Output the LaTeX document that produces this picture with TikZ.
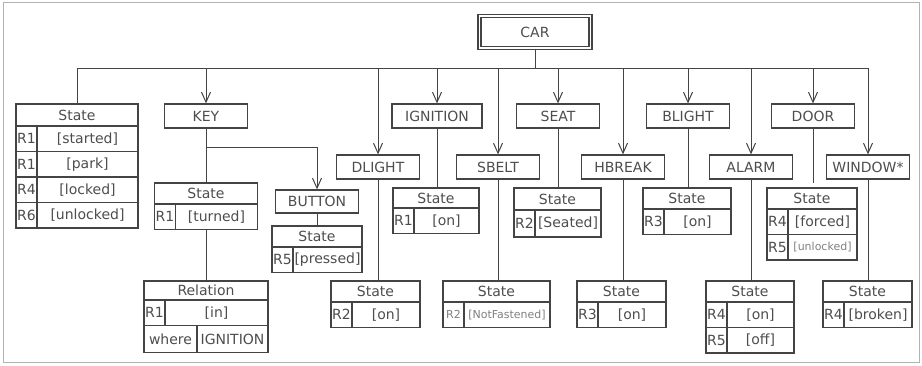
\documentclass[tikz,border=0pt]{standalone}
\usepackage{fontspec}
\setmainfont{DejaVu Sans}
\usetikzlibrary{arrows.meta}
\tikzset{>={Straight Barb[length=10pt,width=9pt]}}
\definecolor{ln}{HTML}{444444}
\definecolor{tx}{HTML}{4D4D4D}
\tikzset{
  ent/.style={draw=ln, line width=1.3pt, text=tx, minimum width=83pt, minimum height=24pt, inner sep=0pt},
  hd/.style={draw=ln, line width=1.4pt, text=tx, minimum height=21pt, inner sep=0pt, outer sep=0pt},
  rk/.style={hd, minimum width=21pt, minimum height=25.5pt, anchor=north west},
  rv/.style={hd, minimum height=25.5pt, anchor=north east},
  small/.style={font=\fontsize{11}{13}\selectfont, text=gray}
}

\begin{document}
\begin{tikzpicture}[x=1pt, y=-1pt, font=\fontsize{14}{16}\selectfont, line width=1pt]
    \useasboundingbox (0,0) rectangle (922,365);
    \draw[gray!60] (3,2) rectangle (919,362);
    % root and entities
    \node[ent, double, double distance=1.6pt, minimum width=111pt, minimum height=32pt] (car) at (535,32) {CAR};
    \coordinate (bus) at (535,68);
    \node[ent] (key) at (206,116) {KEY};
    \node[ent, minimum height=23pt] (button) at (317,201.5) {BUTTON};
    \node[ent] (dlight) at (378,167) {DLIGHT};
    \node[ent, minimum width=90pt] (ignition) at (437,116) {IGNITION};
    \node[ent] (sbelt) at (498,167) {SBELT};
    \node[ent] (seat) at (558,116) {SEAT};
    \node[ent] (hbreak) at (623,167) {HBREAK};
    \node[ent] (blight) at (688,116) {BLIGHT};
    \node[ent] (alarm) at (751,167) {ALARM};
    \node[ent] (door) at (813,116) {DOOR};
    \node[ent] (window) at (868,167) {WINDOW*};
    % state tables
    \node[hd, minimum width=122pt, minimum height=22pt] (cst) at (77,115) {State};
    \node[rk] (cst1k) at (cst.south west) {R1};
    \node[rv, minimum width=101pt] (cst1v) at (cst.south east) {[started]};
    \node[rk] (cst2k) at (cst1k.south west) {R1};
    \node[rv, minimum width=101pt] (cst2v) at (cst1v.south east) {[park]};
    \node[rk] (cst3k) at (cst2k.south west) {R4};
    \node[rv, minimum width=101pt] (cst3v) at (cst2v.south east) {[locked]};
    \node[rk] (cst4k) at (cst3k.south west) {R6};
    \node[rv, minimum width=101pt] (cst4v) at (cst3v.south east) {[unlocked]};

    \node[hd, minimum width=103pt] (keyst) at (206,193.5) {State};
    \node[rk] (keyst1k) at (keyst.south west) {R1};
    \node[rv, minimum width=82pt] (keyst1v) at (keyst.south east) {[turned]};

    \node[hd, minimum width=124pt, minimum height=19pt] (rel) at (206,290.5) {Relation};
    \node[rk] (rel1k) at (rel.south west) {R1};
    \node[rv, minimum width=103pt] (rel1v) at (rel.south east) {[in]};
    \node[rk, minimum width=53pt, minimum height=27pt] (rel2k) at (rel1k.south west) {where};
    \node[rv, minimum width=71pt, minimum height=27pt] (rel2v) at (rel1v.south east) {IGNITION};

    \node[hd, minimum width=90pt] (bst) at (317,236.5) {State};
    \node[rk] (bst1k) at (bst.south west) {R5};
    \node[rv, minimum width=69pt] (bst1v) at (bst.south east) {[pressed]};

    \node[hd, minimum width=89pt] (dst) at (375.5,291.5) {State};
    \node[rk] (dst1k) at (dst.south west) {R2};
    \node[rv, minimum width=68pt] (dst1v) at (dst.south east) {[on]};

    \node[hd, minimum width=86pt, minimum height=20pt] (ist) at (436,198) {State};
    \node[rk] (ist1k) at (ist.south west) {R1};
    \node[rv, minimum width=65pt] (ist1v) at (ist.south east) {[on]};

    \node[hd, minimum width=107pt] (sbst) at (496.5,291.5) {State};
    \node[rk, small] (sbst1k) at (sbst.south west) {R2};
    \node[rv, small, minimum width=86pt] (sbst1v) at (sbst.south east) {[NotFastened]};

    \node[hd, minimum width=87pt, minimum height=22pt] (sst) at (557.5,199) {State};
    \node[rk, minimum height=27pt] (sst1k) at (sst.south west) {R2};
    \node[rv, minimum width=66pt, minimum height=27pt] (sst1v) at (sst.south east) {[Seated]};

    \node[hd, minimum width=89pt] (hst) at (621.5,291.5) {State};
    \node[rk] (hst1k) at (hst.south west) {R3};
    \node[rv, minimum width=68pt] (hst1v) at (hst.south east) {[on]};

    \node[hd, minimum width=88pt] (blst) at (687,198.5) {State};
    \node[rk] (blst1k) at (blst.south west) {R3};
    \node[rv, minimum width=67pt] (blst1v) at (blst.south east) {[on]};

    \node[hd, minimum width=88pt] (ast) at (750,291.5) {State};
    \node[rk] (ast1k) at (ast.south west) {R4};
    \node[rv, minimum width=67pt] (ast1v) at (ast.south east) {[on]};
    \node[rk] (ast2k) at (ast1k.south west) {R5};
    \node[rv, minimum width=67pt] (ast2v) at (ast1v.south east) {[off]};

    \node[hd, minimum width=90pt] (dost) at (812,198.5) {State};
    \node[rk] (dost1k) at (dost.south west) {R4};
    \node[rv, minimum width=69pt] (dost1v) at (dost.south east) {[forced]};
    \node[rk] (dost2k) at (dost1k.south west) {R5};
    \node[rv, small, minimum width=69pt] (dost2v) at (dost1v.south east) {[unlocked]};

    \node[hd, minimum width=89pt] (wst) at (867.5,291.5) {State};
    \node[rk] (wst1k) at (wst.south west) {R4};
    \node[rv, minimum width=68pt] (wst1v) at (wst.south east) {[broken]};
    % connectors
    \draw[ln] (car.south) -- (bus);
    \draw[ln] (cst.north |- bus) -- (window.north |- bus);
    \draw[ln] (cst.north |- bus) -- (cst.north);
    \foreach \n in {key,dlight,ignition,sbelt,seat,hbreak,blight,alarm,door,window}
        \draw[ln, ->] (\n.north |- bus) -- (\n.north);
    \coordinate (kb) at (206,147);
    \draw[ln] (key.south) -- (keyst.north);
    \draw[ln, ->] (kb) -| (button.north);
    \draw[ln] (keyst1v.south -| keyst) -- (rel.north);
    \draw[ln] (button.south) -- (bst.north);
    \foreach \e/\s in {dlight/dst,ignition/ist,sbelt/sbst,seat/sst,hbreak/hst,blight/blst,alarm/ast,window/wst}
        \draw[ln] (\e.south) -- (\e.south |- \s.north);
    \draw[ln, shorten >=5pt] (door.south) -- (door.south |- dost.north);
\end{tikzpicture}
\end{document}
